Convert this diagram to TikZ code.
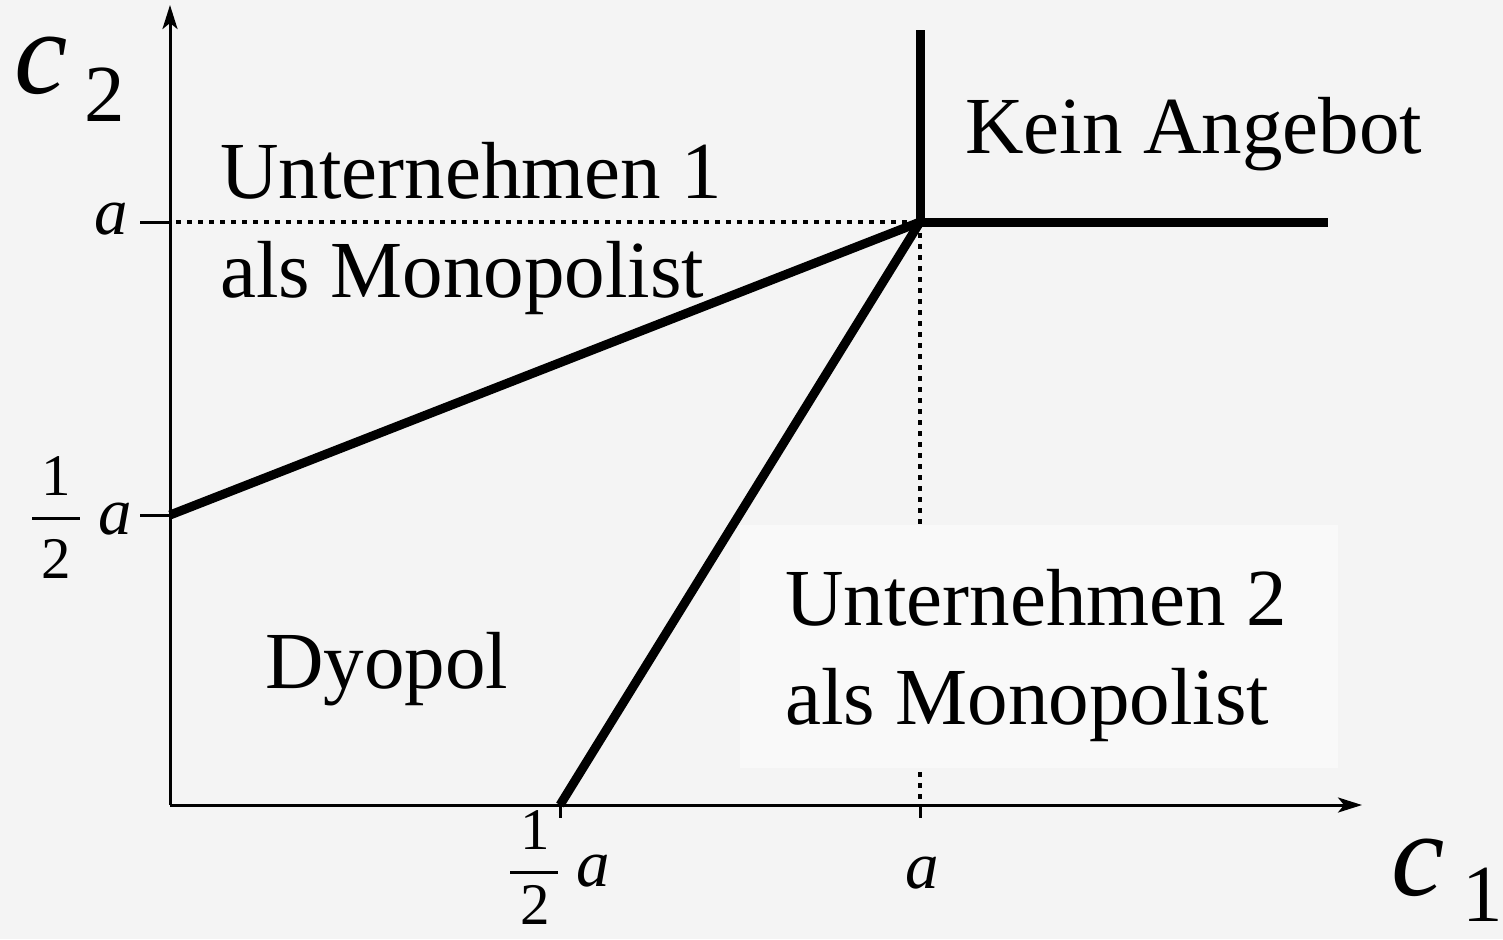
\documentclass[tikz,border=0pt]{standalone}
\usepackage{fontspec}
\setmainfont{Liberation Serif}
\usetikzlibrary{arrows.meta}
\definecolor{bg}{HTML}{F4F4F4}
\definecolor{boxbg}{HTML}{F9F9F9}
\tikzset{
  axis/.style={line width=1.5pt,-{Stealth[length=12pt,width=7.5pt,inset=3pt]}},
  tick/.style={line width=1.5pt},
  guide/.style={line width=2pt,dash pattern=on 2.5pt off 3pt},
  border/.style={line width=4.5pt},
  region/.style={inner sep=0pt,anchor=base west,font=\fontsize{40.5}{49.5}\selectfont,align=left},
  varbig/.style={inner sep=0pt,anchor=base west,font=\fontsize{60}{60}\selectfont\itshape},
  sub/.style={inner sep=0pt,anchor=base west,font=\fontsize{40.5}{40.5}\selectfont},
  alab/.style={inner sep=0pt,anchor=base,font=\fontsize{33.5}{33.5}\selectfont\itshape},
  digit/.style={inner sep=0pt,anchor=base,font=\fontsize{29.5}{29.5}\selectfont},
}
\begin{document}
\begin{tikzpicture}[x=0.5pt,y=-0.5pt]
\fill[bg] (0,0) rectangle (1503,939);
\useasboundingbox (0,0) rectangle (1503,939);
% coordinates
\coordinate (O) at (170,805);
\coordinate (ytop) at (170,5);
\coordinate (xend) at (1362,805);
\coordinate (A2) at (170,222);
\coordinate (A2t) at (140,222);
\coordinate (H2) at (170,515);
\coordinate (H2t) at (140,515);
\coordinate (H1) at (560,805);
\coordinate (H1t) at (560,818);
\coordinate (A1) at (920,805);
\coordinate (A1t) at (920,818);
\coordinate (P) at (920,222);
\coordinate (Ptop) at (920,30);
\coordinate (Pright) at (1328,222);
\coordinate (A2d) at (176,222);
% dotted guides
\draw[guide] (A2d) -- (P);
\draw[guide] (P) -- (A1);
% box behind firm 2 label
\fill[boxbg] (740,525) rectangle (1338,768);
% axes
\draw[axis] (O) -- (ytop);
\draw[axis] (O) -- (xend);
% ticks
\draw[tick] (A2t) -- (A2);
\draw[tick] (H2t) -- (H2);
\draw[tick] (H1) -- (H1t);
\draw[tick] (A1) -- (A1t);
% region borders
\draw[border] (H2) -- (P);
\draw[border] (H1) -- (P);
\draw[border] (P) -- (Ptop);
\draw[border] (P) -- (Pright);
% region labels (anchor = baseline of last line)
\node[region] (u1) at (220,297) {Unternehmen 1\\als Monopolist};
\node[region] (kein) at (965,153) {Kein Angebot};
\node[region] (dy) at (265,688) {Dyopol};
\node[region] (u2) at (785,724) {Unternehmen 2\\als Monopolist};
% axis labels
\node[varbig] (c2) at (14,93) {c};
\node[sub] (c2s) at (84,121) {2};
\node[varbig] (c1) at (1391,895) {c};
\node[sub] (c1s) at (1462,921) {1};
% tick labels
\node[alab] (la2) at (111,234) {a};
\node[digit] (f1a) at (56,495) {1};
\draw[tick] (32,518) -- (80,518);
\node[digit] (f2a) at (56,578) {2};
\node[alab] (lh2) at (115,534) {a};
\node[digit] (f1b) at (535,849) {1};
\draw[tick] (510,872) -- (558,872);
\node[digit] (f2b) at (535,924) {2};
\node[alab] (lh1) at (593,886) {a};
\node[alab] (la1) at (922,888) {a};
\end{tikzpicture}
\end{document}
